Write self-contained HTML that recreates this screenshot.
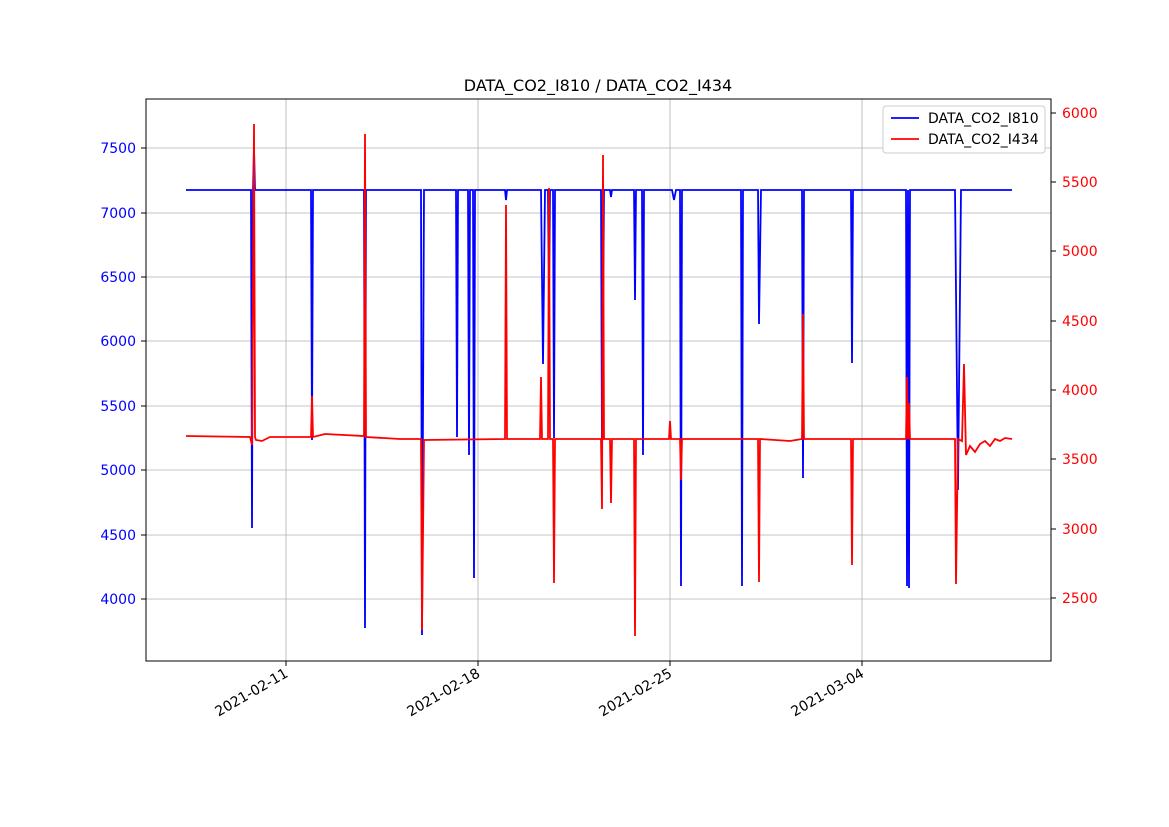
<!DOCTYPE html>
<html><head><meta charset="utf-8"><style>
body{margin:0;background:#fff;}
svg{display:block;font-family:"DejaVu Sans","Liberation Sans",sans-serif;}
</style></head><body>
<svg width="1169" height="827" viewBox="0 0 1169 827" xmlns="http://www.w3.org/2000/svg">
<rect width="1169" height="827" fill="#fff"/>
<g stroke="#b0b0b0" stroke-width="0.8">
<line x1="286" y1="99" x2="286" y2="661"/><line x1="478" y1="99" x2="478" y2="661"/>
<line x1="670" y1="99" x2="670" y2="661"/><line x1="862" y1="99" x2="862" y2="661"/>
<line x1="146" y1="148" x2="1051" y2="148"/><line x1="146" y1="213" x2="1051" y2="213"/>
<line x1="146" y1="277" x2="1051" y2="277"/><line x1="146" y1="341" x2="1051" y2="341"/>
<line x1="146" y1="406" x2="1051" y2="406"/><line x1="146" y1="470" x2="1051" y2="470"/>
<line x1="146" y1="535" x2="1051" y2="535"/><line x1="146" y1="599" x2="1051" y2="599"/>
</g>
<polyline fill="none" stroke="#0000ff" stroke-width="1.8" points="186,190 251,190 252,528 253,190 254,148 255,190 311,190 312,440 313,190 364,190 365,628 366,190 421,190 422,635 424,190 456,190 457,437 458,190 468,190 469,455 470,190 473,190 474,578 475,190 505,190 506,200 507,190 541,190 543,364 545,190 548,190 549,300 550,190 553,190 554,438 555,190 601,190 602,455 604,190 610,190 611,197 612,190 634,190 635,300 636,190 642,190 643,455 644,190 672,190 674,200 676,190 680,190 681,586 682,190 741,190 742,586 743,190 758,190 759,324 761,190 802,190 803,478 804,190 851,190 852,363 853,190 906,190 907,586 908,190 909,588 910,190 955,190 958,490 961,190 1012,190"/>
<polyline fill="none" stroke="#ff0000" stroke-width="1.8" points="186,436 250,437 252,445 254,124 255,437 256,440 262,441 270,437 311,437 312,396 313,437 325,434 364,436 365,134 366,437 400,439 421,439 422,630 424,440 505,439 506,205 507,439 540,439 541,377 542,439 548,439 549,188 550,439 553,439 554,583 555,439 601,439 602,509 603,155 604,439 610,439 611,503 612,439 634,439 635,636 636,439 669,439 670,421 671,439 680,439 681,480 682,439 758,439 759,582 760,439 790,441 802,439 803,314 804,439 851,439 852,565 853,439 906,439 907,377 908,439 909,403 910,439 955,439 956,584 958,439 962,441 964,364 966,455 970,446 975,452 980,444 985,441 990,446 995,439 1000,441 1005,438 1012,439"/>
<rect x="146" y="99" width="905" height="562" fill="none" stroke="#000" stroke-width="1"/>
<g font-size="14" fill="#0000ff" text-anchor="end">
<text x="136" y="153">7500</text><text x="136" y="218">7000</text><text x="136" y="282">6500</text>
<text x="136" y="346">6000</text><text x="136" y="411">5500</text><text x="136" y="475">5000</text>
<text x="136" y="540">4500</text><text x="136" y="604">4000</text></g>
<g stroke="#000"><line x1="141" y1="148" x2="146" y2="148"/><line x1="141" y1="213" x2="146" y2="213"/><line x1="141" y1="277" x2="146" y2="277"/><line x1="141" y1="341" x2="146" y2="341"/><line x1="141" y1="406" x2="146" y2="406"/><line x1="141" y1="470" x2="146" y2="470"/><line x1="141" y1="535" x2="146" y2="535"/><line x1="141" y1="599" x2="146" y2="599"/>
<line x1="1051" y1="113" x2="1056" y2="113"/><line x1="1051" y1="182" x2="1056" y2="182"/><line x1="1051" y1="251" x2="1056" y2="251"/><line x1="1051" y1="321" x2="1056" y2="321"/><line x1="1051" y1="390" x2="1056" y2="390"/><line x1="1051" y1="459" x2="1056" y2="459"/><line x1="1051" y1="529" x2="1056" y2="529"/><line x1="1051" y1="598" x2="1056" y2="598"/>
<line x1="286" y1="661" x2="286" y2="666"/><line x1="478" y1="661" x2="478" y2="666"/><line x1="670" y1="661" x2="670" y2="666"/><line x1="862" y1="661" x2="862" y2="666"/></g>
<g font-size="14" fill="#ff0000">
<text x="1062" y="118">6000</text><text x="1062" y="187">5500</text><text x="1062" y="256">5000</text>
<text x="1062" y="326">4500</text><text x="1062" y="395">4000</text><text x="1062" y="464">3500</text>
<text x="1062" y="534">3000</text><text x="1062" y="603">2500</text></g>
<g font-size="14" fill="#000" text-anchor="end">
<text transform="translate(289,676) rotate(-30)">2021-02-11</text>
<text transform="translate(481,676) rotate(-30)">2021-02-18</text>
<text transform="translate(673,676) rotate(-30)">2021-02-25</text>
<text transform="translate(865,676) rotate(-30)">2021-03-04</text></g>
<text x="598" y="91" font-size="16" text-anchor="middle">DATA_CO2_I810 / DATA_CO2_I434</text>
<rect x="883" y="106" width="162" height="47" fill="#fff" stroke="#ccc" rx="3"/>
<line x1="891" y1="118" x2="919" y2="118" stroke="#0000ff" stroke-width="1.8"/>
<line x1="891" y1="139" x2="919" y2="139" stroke="#ff0000" stroke-width="1.8"/>
<text x="928" y="123" font-size="14">DATA_CO2_I810</text>
<text x="928" y="144" font-size="14">DATA_CO2_I434</text>
</svg>
</body></html>
